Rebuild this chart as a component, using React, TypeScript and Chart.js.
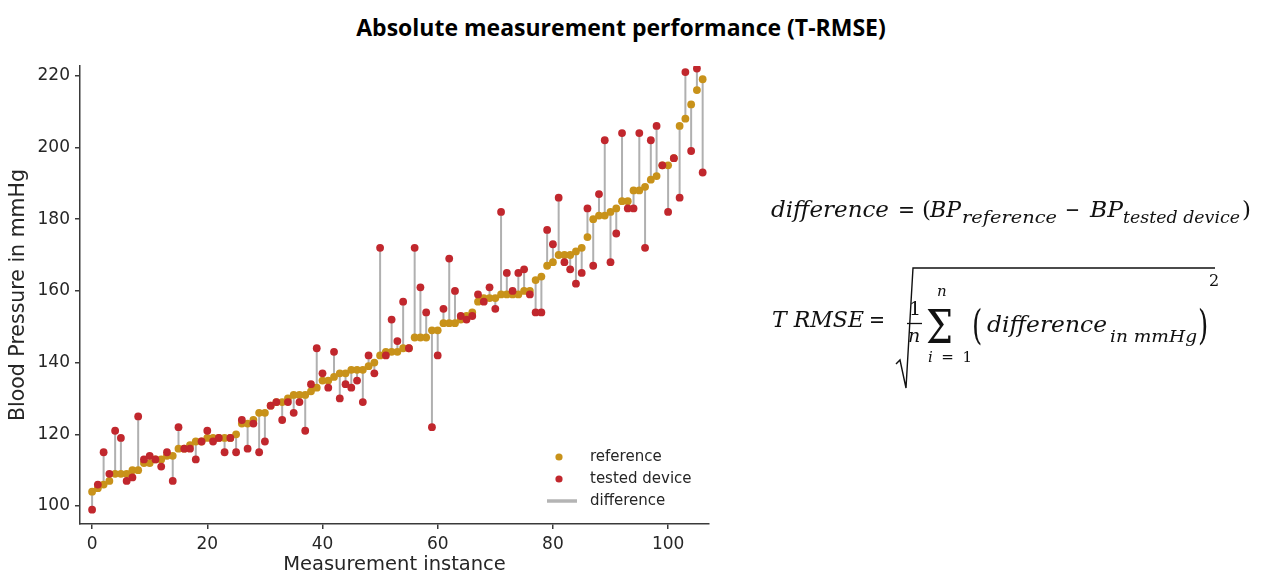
import React, { useEffect, useRef } from 'react';
import { Chart, registerables } from 'chart.js';

Chart.register(...registerables);

// Reference blood pressure (sorted), mmHg
const referenceBP = [
  104, 105, 106, 107, 109, 109, 109, 110, 110, 112,
  112, 113, 113, 114, 114, 116, 116, 117, 118, 118,
  119, 119, 119, 119, 119, 120, 123, 123, 124, 126,
  126, 128, 129, 129, 130, 131, 131, 131, 132, 133,
  135, 135, 136, 137, 137, 138, 138, 138, 139, 140,
  142, 143, 143, 143, 144, 144, 147, 147, 147, 149,
  149, 151, 151, 151, 152, 153, 154, 157, 158, 158,
  158, 159, 159, 159, 159, 160, 160, 163, 164, 167,
  168, 170, 170, 170, 171, 172, 175, 180, 181, 181,
  182, 183, 185, 185, 188, 188, 189, 191, 192, 195,
  195, 197, 206, 208, 212, 216, 219,
];

// Tested device blood pressure, mmHg
const testedBP = [
  99, 106, 115, 109, 121, 119, 107, 108, 125, 113,
  114, 113, 111, 115, 107, 122, 116, 116, 113, 118,
  121, 118, 119, 115, 119, 115, 124, 116, 123, 115,
  118, 128, 129, 124, 129, 126, 129, 121, 134, 144,
  137, 133, 143, 130, 134, 133, 135, 129, 142, 137,
  172, 142, 152, 146, 157, 144, 172, 161, 154, 122,
  142, 155, 169, 160, 153, 152, 153, 159, 157, 161,
  155, 182, 165, 160, 165, 166, 159, 154, 154, 177,
  173, 186, 168, 166, 162, 165, 183, 167, 187, 202,
  168, 176, 204, 183, 183, 204, 172, 202, 206, 195,
  182, 197, 186, 221, 199, 222, 193,
];

const xTickValues = [0, 20, 40, 60, 80, 100];
const yTickValues = [100, 120, 140, 160, 180, 200, 220];
const legendLabels = ['reference', 'tested device', 'difference'];

const X_MIN = -2.1;
const X_MAX = 107.1;
const Y_MIN = 95;
const Y_MAX = 222.7;

const GOLD = '#c8921a';
const RED = '#c1272d';
const GRAY = 'rgba(150,150,150,0.75)';
const LEGEND_GRAY = '#b4b4b4';
const INK = '#262626';
const AXIS = '#3a3a3a';

export default function App() {
  const canvasRef = useRef<HTMLCanvasElement>(null);

  useEffect(() => {
    const idx = referenceBP.map((_, i) => i);
    const diffData: any[] = [];
    idx.forEach((i) => {
      diffData.push({ x: i, y: referenceBP[i] }, { x: i, y: testedBP[i] }, { x: i, y: null });
    });

    const legendPlugin = {
      id: 'innerLegend',
      afterDraw(chart: any) {
        const { ctx, chartArea } = chart;
        const r = chartArea.right;
        const b = chartArea.bottom;
        ctx.save();
        ctx.font = '15px "DejaVu Sans"';
        ctx.textBaseline = 'middle';
        ctx.textAlign = 'left';
        const textX = r - 119;
        const rows = [b - 67, b - 45, b - 23];
        ctx.beginPath();
        ctx.fillStyle = GOLD;
        ctx.arc(r - 150, rows[0], 3.6, 0, Math.PI * 2);
        ctx.fill();
        ctx.beginPath();
        ctx.fillStyle = RED;
        ctx.arc(r - 150, rows[1], 3.6, 0, Math.PI * 2);
        ctx.fill();
        ctx.beginPath();
        ctx.strokeStyle = LEGEND_GRAY;
        ctx.lineWidth = 3.5;
        ctx.moveTo(r - 162, rows[2]);
        ctx.lineTo(r - 132, rows[2]);
        ctx.stroke();
        ctx.fillStyle = INK;
        legendLabels.forEach((t, k) => ctx.fillText(t, textX, rows[k]));
        ctx.restore();
      },
    };

    const chart = new Chart(canvasRef.current!, {
      type: 'scatter',
      data: {
        datasets: [
          {
            label: 'tested device',
            data: idx.map((i) => ({ x: i, y: testedBP[i] })),
            backgroundColor: RED,
            borderWidth: 0,
            pointRadius: 3.9,
            order: 0,
          },
          {
            label: 'reference',
            data: idx.map((i) => ({ x: i, y: referenceBP[i] })),
            backgroundColor: GOLD,
            borderWidth: 0,
            pointRadius: 3.9,
            order: 1,
          },
          {
            type: 'line',
            label: 'difference',
            data: diffData,
            borderColor: GRAY,
            borderWidth: 2,
            pointRadius: 0,
            showLine: true,
            spanGaps: false,
            order: 2,
          } as any,
        ],
      },
      options: {
        animation: false,
        responsive: true,
        maintainAspectRatio: false,
        layout: { padding: { top: 66, right: 11, left: 0, bottom: 0 } },
        plugins: {
          legend: { display: false },
          tooltip: { enabled: false },
          title: { display: false },
        },
        scales: {
          x: {
            type: 'linear',
            min: X_MIN,
            max: X_MAX,
            afterBuildTicks: (s: any) => {
              s.ticks = xTickValues.map((v) => ({ value: v }));
            },
            afterFit: (s: any) => {
              s.height = 53;
            },
            grid: { drawOnChartArea: false, drawTicks: true, tickLength: 5, color: AXIS, lineWidth: 1.5 },
            border: { display: true, color: AXIS, width: 1.5 },
            ticks: {
              color: INK,
              font: { family: 'DejaVu Sans', size: 17 },
              padding: 5,
              maxRotation: 0,
              autoSkip: false,
            },
            title: {
              display: true,
              text: 'Measurement instance',
              color: INK,
              font: { family: 'DejaVu Sans', size: 19.5 },
              padding: { top: 0, bottom: 0 },
            },
          },
          y: {
            type: 'linear',
            min: Y_MIN,
            max: Y_MAX,
            afterBuildTicks: (s: any) => {
              s.ticks = yTickValues.map((v) => ({ value: v }));
            },
            afterFit: (s: any) => {
              s.width = 80;
            },
            grid: { drawOnChartArea: false, drawTicks: true, tickLength: 5, color: AXIS, lineWidth: 1.5 },
            border: { display: true, color: AXIS, width: 1.5 },
            ticks: {
              color: INK,
              font: { family: 'DejaVu Sans', size: 17 },
              padding: 5,
              autoSkip: false,
            },
            title: {
              display: true,
              text: 'Blood Pressure in mmHg',
              color: INK,
              font: { family: 'DejaVu Sans', size: 20.5 },
              padding: { top: 6, bottom: 0 },
            },
          },
        },
      },
      plugins: [legendPlugin],
    });
    return () => chart.destroy();
  }, []);

  const serif = '"DejaVu Serif", "Liberation Serif", serif';

  return (
    <div
      style={{
        position: 'absolute',
        left: 0,
        top: 0,
        width: 1268,
        height: 577,
        background: '#ffffff',
        overflow: 'hidden',
      }}
    >
      <div
        style={{
          position: 'absolute',
          left: 0,
          top: 12,
          width: 1242,
          textAlign: 'center',
          fontFamily: '"Open Sans", "Noto Sans", sans-serif',
          fontWeight: 700,
          fontSize: 23,
          lineHeight: '30px',
          color: '#000',
        }}
      >
        Absolute measurement performance (T-RMSE)
      </div>
      <div style={{ position: 'absolute', left: 0, top: 0, width: 720, height: 577 }}>
        <canvas ref={canvasRef} />
      </div>
      <svg
        width={1268}
        height={577}
        style={{ position: 'absolute', left: 0, top: 0, pointerEvents: 'none' }}
        fontFamily={serif}
        fill="#111"
      >
        {/* difference = (BP_reference - BP_tested device) */}
        <text x={771} y={217} fontSize={23} fontStyle="italic" textLength={118} lengthAdjust="spacingAndGlyphs">difference</text>
        <text x={898} y={217} fontSize={22} textLength={17} lengthAdjust="spacingAndGlyphs">=</text>
        <text x={922} y={217} fontSize={23}>(</text>
        <text x={930} y={217} fontSize={23} fontStyle="italic" textLength={31} lengthAdjust="spacingAndGlyphs">BP</text>
        <text x={962} y={223} fontSize={16} fontStyle="italic" textLength={95} lengthAdjust="spacingAndGlyphs">reference</text>
        <text x={1065} y={217} fontSize={22} textLength={15} lengthAdjust="spacingAndGlyphs">−</text>
        <text x={1090} y={217} fontSize={23} fontStyle="italic" textLength={33} lengthAdjust="spacingAndGlyphs">BP</text>
        <text x={1123} y={223} fontSize={16} fontStyle="italic" textLength={117} lengthAdjust="spacingAndGlyphs">tested device</text>
        <text x={1242} y={217} fontSize={23}>)</text>

        {/* T RMSE = sqrt( 1/n sum (difference_in mmHg)^2 ) */}
        <text x={772} y={327} fontSize={23} fontStyle="italic" textLength={92} lengthAdjust="spacingAndGlyphs">T RMSE</text>
        <text x={869} y={327} fontSize={22} textLength={16} lengthAdjust="spacingAndGlyphs">=</text>
        <path d="M 896 364 L 900 360 L 906 388 L 913 268 L 1215 268" stroke="#111" strokeWidth={1.4} fill="none" />
        <text x={909} y={315} fontSize={19}>1</text>
        <line x1={907} y1={323.5} x2={922} y2={323.5} stroke="#111" strokeWidth={1.3} />
        <text x={908} y={342} fontSize={19} fontStyle="italic">n</text>
        <text x={937} y={296} fontSize={15} fontStyle="italic">n</text>
        <text x={926} y={343} fontSize={46} textLength={27} lengthAdjust="spacingAndGlyphs">Σ</text>
        <text x={928} y={362} fontSize={15} textLength={44} lengthAdjust="spacing">
          <tspan fontStyle="italic">i</tspan> = 1
        </text>
        <text transform="translate(972,339) scale(0.85,1.3)" fontSize={31}>(</text>
        <text x={987} y={332} fontSize={23} fontStyle="italic" textLength={120} lengthAdjust="spacingAndGlyphs">difference</text>
        <text x={1110} y={342} fontSize={16} fontStyle="italic" textLength={87} lengthAdjust="spacingAndGlyphs">in mmHg</text>
        <text transform="translate(1198,339) scale(0.85,1.3)" fontSize={31}>)</text>
        <text x={1209} y={286} fontSize={16}>2</text>
      </svg>
    </div>
  );
}
